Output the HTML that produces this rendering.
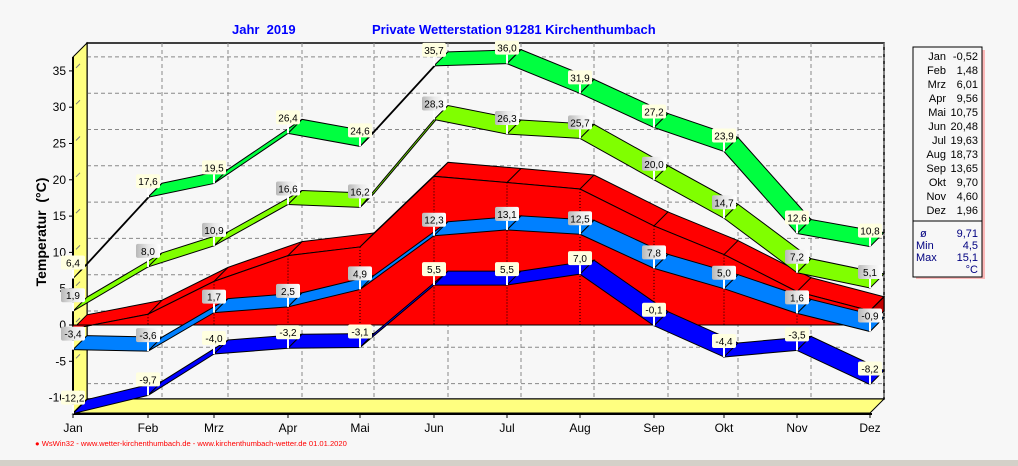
<!DOCTYPE html>
<html><head><meta charset="utf-8"><style>
body{margin:0;background:#f7f7f7;}
svg{display:block;font-family:"Liberation Sans",Arial,sans-serif;}
</style></head><body>
<svg id="s" width="1018" height="466" xmlns="http://www.w3.org/2000/svg"></svg>
<script>
(function(){
const X=[73,148,214,288,360,434,507,580,654,724,797,870];
const M=["Jan","Feb","Mrz","Apr","Mai","Jun","Jul","Aug","Sep","Okt","Nov","Dez"];
const D=14;
const Y=v=>325-v*7.26;
let h='';
h+='<rect x="0" y="460" width="1018" height="6" fill="#d4d0c8"/>';
h+='<rect x="87" y="43" width="797" height="356" fill="#f7f7f7" stroke="#000" stroke-width="1.5"/>';
for(let v=-10;v<=35;v+=5){const y=Y(v)-D;h+=`<line x1="87" x2="884" y1="${y}" y2="${y}" stroke="#888" stroke-dasharray="4,3"/>`;}
X.forEach(x=>h+=`<line x1="${x+D}" x2="${x+D}" y1="43" y2="399" stroke="#888" stroke-dasharray="4,3"/>`);
h+='<polygon points="73,57 87,43 87,399 73,413" fill="#ffff80" stroke="#000"/>';
for(let v=-10;v<=35;v+=5){const y=Y(v);h+=`<line x1="76" y1="${y-3}" x2="80" y2="${y-7}" stroke="#777"/><line x1="69" x2="73" y1="${y}" y2="${y}" stroke="#000"/><text x="66" y="${y+4}" font-size="12" text-anchor="end">${v}</text>`;}
h+='<polygon points="73,413 870,413 884,399 87,399" fill="#ffff80" stroke="#000"/>';
h+='<line x1="73" y1="414" x2="872" y2="414" stroke="#000" stroke-width="2"/><line x1="73" y1="57" x2="73" y2="414" stroke="#000" stroke-width="2"/>';
X.forEach((x,i)=>{h+=`<line x1="${x}" x2="${x}" y1="414" y2="418" stroke="#000"/><text x="${x}" y="432" font-size="12" text-anchor="middle">${M[i]}</text>`;});
const R=[-0.52,1.48,6.01,9.56,10.75,20.48,19.63,18.73,13.65,9.70,4.60,1.96];
let front='';
for(let i=0;i<12;i++){front+=`${X[i]},${Y(R[i])} `;}
let back='';for(let i=11;i>=0;i--)back+=`${X[i]+D},${Y(R[i])-D} `;
h+=`<polygon points="${front}${back}" fill="#ff0000" stroke="#000"/>`;
h+=`<polygon points="${front}870,${Y(0)} 73,${Y(0)}" fill="#ff0000" stroke="#000"/>`;
h+=`<polygon points="870,${Y(R[11])} 884,${Y(R[11])-D} 884,${Y(0)-D} 870,${Y(0)}" fill="#c00000" stroke="#000"/>`;
for(let i=1;i<12;i++)h+=`<line x1="${X[i]}" y1="${Y(R[i])}" x2="${X[i]+D}" y2="${Y(R[i])-D}" stroke="#000"/><line x1="${X[i]}" x2="${X[i]}" y1="${Y(R[i])}" y2="${Y(0)}" stroke="#000" stroke-dasharray="1,2"/>`;
h+=`<line x1="73" x2="870" y1="${Y(0)}" y2="${Y(0)}" stroke="#000" stroke-dasharray="1,2"/>`;
const S=[
 {c:"#0000ff",b:"#ffffe0",v:[-12.2,-9.7,-4.0,-3.2,-3.1,5.5,5.5,7.0,-0.1,-4.4,-3.5,-8.2]},
 {c:"#0080ff",b:"g",v:[-3.4,-3.6,1.7,2.5,4.9,12.3,13.1,12.5,7.8,5.0,1.6,-0.9]},
 {c:"#80ff00",b:"g",v:[1.9,8.0,10.9,16.6,16.2,28.3,26.3,25.7,20.0,14.7,7.2,5.1]},
 {c:"#00ff40",b:"#ffffe0",v:[6.4,17.6,19.5,26.4,24.6,35.7,36.0,31.9,27.2,23.9,12.6,10.8]}];
h+='<defs><linearGradient id="g" x1="0" x2="1"><stop offset="0" stop-color="#b8b8b8"/><stop offset="0.5" stop-color="#e8e8e8"/><stop offset="1" stop-color="#fff"/></linearGradient></defs>';
S.forEach(s=>{for(let i=0;i<11;i++){const a=X[i],b=X[i+1],ya=Y(s.v[i]),yb=Y(s.v[i+1]);
 h+=`<polygon points="${a},${ya} ${b},${yb} ${b+D},${yb-D} ${a+D},${ya-D}" fill="${s.c}" stroke="#000" stroke-width="1"/>`;}});
S.forEach(s=>{s.v.forEach((v,i)=>{const x=X[i],y=Y(v);const t=v.toFixed(1).replace('.',',');
 h+=`<line x1="${x}" x2="${x}" y1="${y-9}" y2="${y}" stroke="#fff" stroke-width="2"/>`;
 h+=`<rect x="${x-12}" y="${y-23}" width="24" height="14" rx="2" fill="${s.b=='g'?'url(#g)':s.b}"/>`;
 h+=`<text x="${x}" y="${y-12}" font-size="10" text-anchor="middle">${t}</text>`;});});
h+='<text x="232" y="34" font-size="13" font-weight="bold" fill="#0000ff" xml:space="preserve">Jahr  2019</text>';
h+='<text x="372" y="34" font-size="13" font-weight="bold" fill="#0000ff">Private Wetterstation 91281 Kirchenthumbach</text>';
h+='<text transform="translate(46,232) rotate(-90)" font-size="14" font-weight="bold" text-anchor="middle" xml:space="preserve">Temperatur  (°C)</text>';
h+='<text x="35" y="446" font-size="7.6" fill="#ff0000">● WsWin32 - www.wetter-kirchenthumbach.de - www.kirchenthumbach-wetter.de  01.01.2020</text>';
h+='<rect x="916" y="50" width="69" height="229" fill="#ff9090" opacity="0.6"/>';
h+='<rect x="913" y="47" width="69" height="230" fill="#f7f7f7" stroke="#000"/><line x1="913" x2="982" y1="221" y2="221" stroke="#000"/>';
const L=["-0,52","1,48","6,01","9,56","10,75","20,48","19,63","18,73","13,65","9,70","4,60","1,96"];
M.forEach((m,i)=>{const y=60+i*14;h+=`<text x="946" y="${y}" font-size="11" text-anchor="end">${m}</text><text x="978" y="${y}" font-size="11" text-anchor="end">${L[i]}</text>`;});
[["ø","9,71"],["Min","4,5"],["Max","15,1"],["","°C"]].forEach((r,i)=>{const y=237+i*12;h+=`<text x="${r[0]=='ø'?920:916}" y="${y}" font-size="11" fill="#000080">${r[0]}</text><text x="978" y="${y}" font-size="11" fill="#000080" text-anchor="end">${r[1]}</text>`;});
document.getElementById('s').innerHTML=h;
})();
</script>
</body></html>
